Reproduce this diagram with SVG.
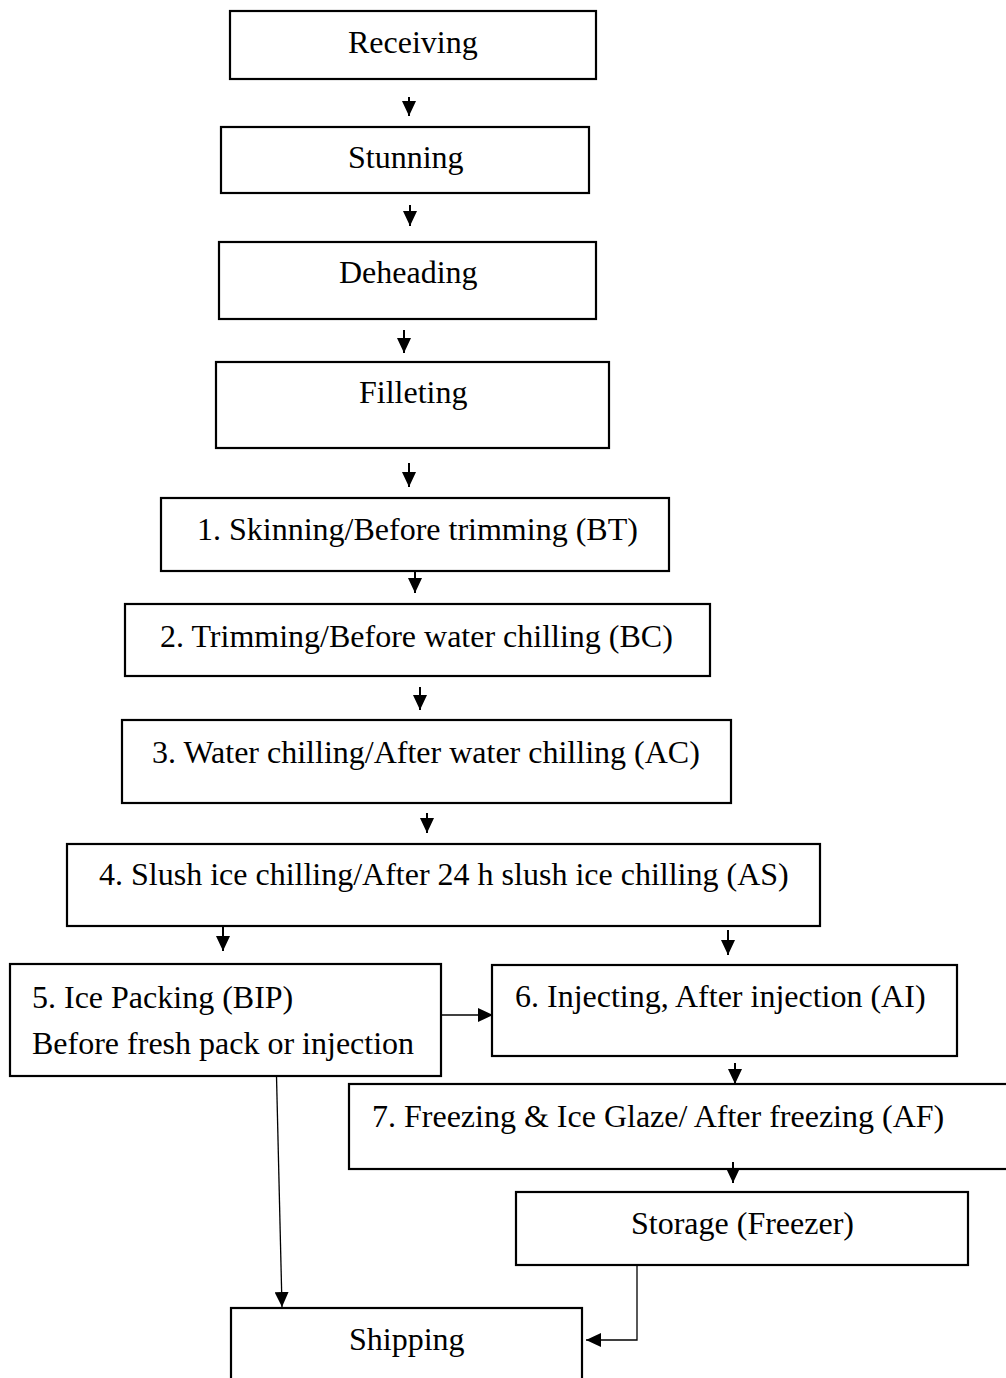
<svg xmlns="http://www.w3.org/2000/svg" width="1006" height="1378" viewBox="0 0 1006 1378">
<style>
.box{fill:#fff;stroke:#000;stroke-width:2.2}
.t{font-family:"Liberation Serif","Times New Roman",serif;font-size:32px;fill:#000}
.stem{stroke:#000;stroke-width:2;fill:none;marker-end:url(#ah)}
.thin{stroke:#000;stroke-width:1.3;fill:none;marker-end:url(#ah)}
</style>
<defs>
<marker id="ah" markerUnits="userSpaceOnUse" markerWidth="15" markerHeight="14" refX="15" refY="7" orient="auto">
<path d="M0,0 L15,7 L0,14 z" fill="#000"/>
</marker>
</defs>
<rect width="1006" height="1378" fill="#fff"/>
<g id="receiving"><rect class="box" x="230" y="11" width="366" height="68"/><text class="t" x="348" y="53">Receiving</text></g>
<g id="stunning"><rect class="box" x="221" y="127" width="368" height="66"/><text class="t" x="348" y="168">Stunning</text></g>
<g id="deheading"><rect class="box" x="219" y="242" width="377" height="77"/><text class="t" x="339" y="283">Deheading</text></g>
<g id="filleting"><rect class="box" x="216" y="362" width="393" height="86"/><text class="t" x="359" y="403">Filleting</text></g>
<g id="skinning"><rect class="box" x="161" y="498" width="508" height="73"/><text class="t" x="197" y="540">1. Skinning/Before trimming (BT)</text></g>
<g id="trimming"><rect class="box" x="125" y="604" width="585" height="72"/><text class="t" x="160" y="647">2. Trimming/Before water chilling (BC)</text></g>
<g id="waterchilling"><rect class="box" x="122" y="720" width="609" height="83"/><text class="t" x="152" y="763">3. Water chilling/After water chilling (AC)</text></g>
<g id="slushice"><rect class="box" x="67" y="844" width="753" height="82"/><text class="t" x="99" y="885">4. Slush ice chilling/After 24 h slush ice chilling (AS)</text></g>
<g id="icepacking"><rect class="box" x="10" y="964" width="431" height="112"/><text class="t" x="32" y="1008">5. Ice Packing (BIP)</text><text class="t" x="32" y="1054">Before fresh pack or injection</text></g>
<g id="injecting"><rect class="box" x="492" y="965" width="465" height="91"/><text class="t" x="515" y="1007">6. Injecting, After injection (AI)</text></g>
<g id="freezing"><rect class="box" x="349" y="1084" width="700" height="85"/><text class="t" x="372" y="1127">7. Freezing &amp; Ice Glaze/ After freezing (AF)</text></g>
<g id="storage"><rect class="box" x="516" y="1192" width="452" height="73"/><text class="t" x="631" y="1234">Storage (Freezer)</text></g>
<g id="shipping"><rect class="box" x="231" y="1308" width="351" height="100"/><text class="t" x="349" y="1350">Shipping</text></g>
<g id="connectors">
<line class="stem" x1="409" y1="97" x2="409" y2="116"/>
<line class="stem" x1="410" y1="205" x2="410" y2="226"/>
<line class="stem" x1="404" y1="330" x2="404" y2="353"/>
<line class="stem" x1="409" y1="463" x2="409" y2="487"/>
<line class="stem" x1="415" y1="571" x2="415" y2="593"/>
<line class="stem" x1="420" y1="687" x2="420" y2="710"/>
<line class="stem" x1="427" y1="813" x2="427" y2="833"/>
<line class="stem" x1="223" y1="927" x2="223" y2="951"/>
<line class="stem" x1="728" y1="930" x2="728" y2="955"/>
<line class="stem" x1="735" y1="1063" x2="735" y2="1084"/>
<line class="stem" x1="733" y1="1162" x2="733" y2="1183"/>
<line class="thin" x1="441" y1="1015" x2="493" y2="1015"/>
<line class="thin" x1="276.5" y1="1076" x2="282" y2="1307"/>
<path class="thin" d="M637,1265 V1340 H586"/>
</g>
</svg>
